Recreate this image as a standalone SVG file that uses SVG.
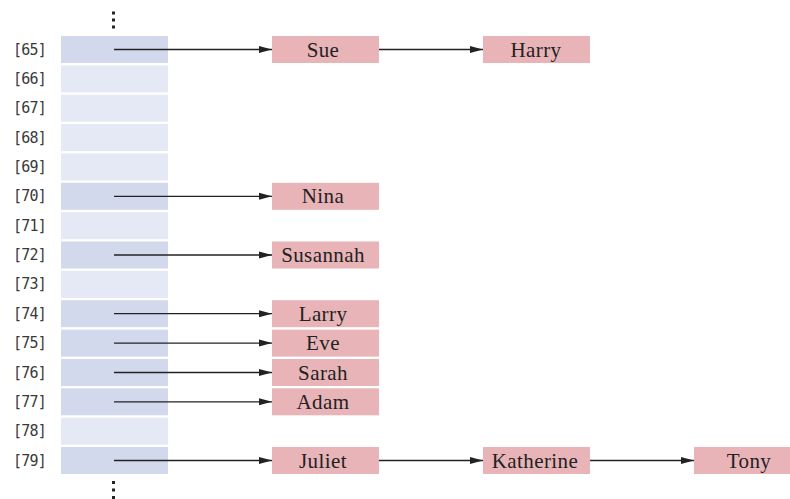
<svg xmlns="http://www.w3.org/2000/svg" width="790" height="499" viewBox="0 0 790 499">
<style>
.cd{fill:#d3d9ec}
.cl{fill:#e5e8f5}
.nb{fill:#e8b4b8}
.lbl{font-family:"DejaVu Sans Mono",monospace;font-size:15px;fill:#3a3a3a;letter-spacing:-0.8px}
.nm{font-family:"Liberation Serif",serif;font-size:21px;fill:#222;text-anchor:middle;letter-spacing:0.4px}
.ar{stroke:#222;stroke-width:1.3;fill:none;marker-end:url(#ah)}
.dot{fill:#222}
</style>
<defs>
<marker id="ah" markerUnits="userSpaceOnUse" markerWidth="14" markerHeight="8" refX="13" refY="4" orient="auto">
<path d="M0,0.5 L13,4 L0,7.5 Z" fill="#222"/>
</marker>
</defs>
<g id="dots-top"><rect class="dot" x="112" y="11.5" width="3" height="3"/><rect class="dot" x="112" y="18.5" width="3" height="3"/><rect class="dot" x="112" y="25.5" width="3" height="3"/></g>
<g id="dots-bottom"><rect class="dot" x="112" y="481" width="3" height="3"/><rect class="dot" x="112" y="488.5" width="3" height="3"/><rect class="dot" x="112" y="496" width="3" height="3"/></g>
<g id="row65"><rect class="cd" x="61" y="36" width="107" height="27"/><text class="lbl" x="13" y="54.5">[65]</text></g>
<g id="row66"><rect class="cl" x="61" y="65.4" width="107" height="27"/><text class="lbl" x="13" y="83.9">[66]</text></g>
<g id="row67"><rect class="cl" x="61" y="94.7" width="107" height="27"/><text class="lbl" x="13" y="113.2">[67]</text></g>
<g id="row68"><rect class="cl" x="61" y="124.1" width="107" height="27"/><text class="lbl" x="13" y="142.6">[68]</text></g>
<g id="row69"><rect class="cl" x="61" y="153.4" width="107" height="27"/><text class="lbl" x="13" y="171.9">[69]</text></g>
<g id="row70"><rect class="cd" x="61" y="182.8" width="107" height="27"/><text class="lbl" x="13" y="201.3">[70]</text></g>
<g id="row71"><rect class="cl" x="61" y="212.2" width="107" height="27"/><text class="lbl" x="13" y="230.7">[71]</text></g>
<g id="row72"><rect class="cd" x="61" y="241.5" width="107" height="27"/><text class="lbl" x="13" y="260">[72]</text></g>
<g id="row73"><rect class="cl" x="61" y="270.9" width="107" height="27"/><text class="lbl" x="13" y="289.4">[73]</text></g>
<g id="row74"><rect class="cd" x="61" y="300.2" width="107" height="27"/><text class="lbl" x="13" y="318.7">[74]</text></g>
<g id="row75"><rect class="cd" x="61" y="329.6" width="107" height="27"/><text class="lbl" x="13" y="348.1">[75]</text></g>
<g id="row76"><rect class="cd" x="61" y="359" width="107" height="27"/><text class="lbl" x="13" y="377.5">[76]</text></g>
<g id="row77"><rect class="cd" x="61" y="388.3" width="107" height="27"/><text class="lbl" x="13" y="406.8">[77]</text></g>
<g id="row78"><rect class="cl" x="61" y="417.7" width="107" height="27"/><text class="lbl" x="13" y="436.2">[78]</text></g>
<g id="row79"><rect class="cd" x="61" y="447" width="107" height="27"/><text class="lbl" x="13" y="465.5">[79]</text></g>

<g id="sue"><rect class="nb" x="272" y="36" width="107" height="27"/><text class="nm" x="323" y="56.5">Sue</text></g>
<g id="harry"><rect class="nb" x="483" y="36" width="107" height="27"/><text class="nm" x="536" y="56.5">Harry</text></g>
<g id="nina"><rect class="nb" x="272" y="182.8" width="107" height="27"/><text class="nm" x="323" y="203.3">Nina</text></g>
<g id="susannah"><rect class="nb" x="272" y="241.5" width="107" height="27"/><text class="nm" x="323" y="262">Susannah</text></g>
<g id="larry"><rect class="nb" x="272" y="300.2" width="107" height="27"/><text class="nm" x="323" y="320.7">Larry</text></g>
<g id="eve"><rect class="nb" x="272" y="329.6" width="107" height="27"/><text class="nm" x="323" y="350.1">Eve</text></g>
<g id="sarah"><rect class="nb" x="272" y="359" width="107" height="27"/><text class="nm" x="323" y="379.5">Sarah</text></g>
<g id="adam"><rect class="nb" x="272" y="388.3" width="107" height="27"/><text class="nm" x="323" y="408.8">Adam</text></g>
<g id="juliet"><rect class="nb" x="272" y="447" width="107" height="27"/><text class="nm" x="323" y="467.5">Juliet</text></g>
<g id="katherine"><rect class="nb" x="483" y="447" width="107" height="27"/><text class="nm" x="535" y="467.5">Katherine</text></g>
<g id="tony"><rect class="nb" x="694" y="447" width="107" height="27"/><text class="nm" x="749" y="467.5">Tony</text></g>

<g id="connectors">
<line class="ar" x1="114" y1="49.5" x2="272" y2="49.5"/>
<line class="ar" x1="379" y1="49.5" x2="483" y2="49.5"/>
<line class="ar" x1="114" y1="196.3" x2="272" y2="196.3"/>
<line class="ar" x1="114" y1="255" x2="272" y2="255"/>
<line class="ar" x1="114" y1="313.7" x2="272" y2="313.7"/>
<line class="ar" x1="114" y1="343.1" x2="272" y2="343.1"/>
<line class="ar" x1="114" y1="372.5" x2="272" y2="372.5"/>
<line class="ar" x1="114" y1="401.8" x2="272" y2="401.8"/>
<line class="ar" x1="114" y1="460.5" x2="272" y2="460.5"/>
<line class="ar" x1="379" y1="460.5" x2="483" y2="460.5"/>
<line class="ar" x1="590" y1="460.5" x2="694" y2="460.5"/>
</g>
</svg>
